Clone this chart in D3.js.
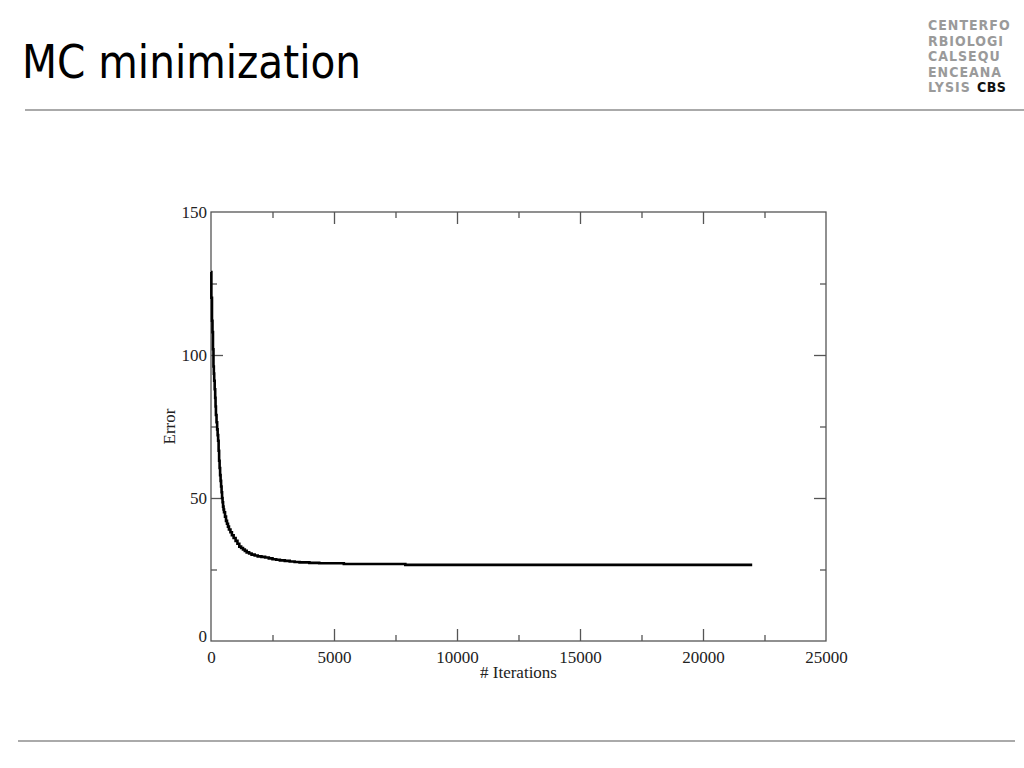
<!DOCTYPE html>
<html><head><meta charset="utf-8">
<script src="https://cdn.jsdelivr.net/npm/d3@7"></script>
<style>body{margin:0;background:#fff;}svg{display:block;}</style>
</head><body>
<svg id="c" width="1024" height="768"></svg>
<script>
const title = "MC minimization";
const logoLines = ["CENTERFO","RBIOLOGI","CALSEQU","ENCEANA","LYSIS"];
const xLabel = "# Iterations";
const yLabel = "Error";
const xTicks = [0,5000,10000,15000,20000,25000];
const yTicks = [0,50,100,150];
const iterations = [0,15,40,60,80,100,115,130,150,170,185,200,225,250,270,290,310,330,350,370,390,410,430,450,470,490,510,530,570,610,650,690,730,790,850,920,1000,1075,1150,1225,1300,1375,1450,1550,1650,1775,1900,2050,2200,2350,2500,2650,2800,3000,3200,3400,3600,4000,4400,5400,7900,22000];
const errors =     [129,120,112,108,102,96,93.5,91,88,85,82,79,76.5,74,72,70,66.5,63,60.5,58,56,54,52,50,48.5,47,46,45,43.5,42,41,40,39,38,37,36,35,34,33,32.5,32,31.5,31,30.6,30.2,29.9,29.6,29.4,29.2,28.9,28.6,28.4,28.2,28,27.8,27.6,27.5,27.3,27.2,26.9,26.6,26.6];

const svg = d3.select("#c");
// title
svg.append("text").attr("x",22).attr("y",78).attr("font-family","'Comic Sans MS','DejaVu Sans',sans-serif")
  .attr("font-size",46).attr("fill","#000").attr("textLength",339).attr("lengthAdjust","spacingAndGlyphs").text(title);
svg.append("line").attr("x1",25).attr("x2",1024).attr("y1",110).attr("y2",110).attr("stroke","#aaa").attr("stroke-width",2);
svg.append("line").attr("x1",18).attr("x2",1015).attr("y1",741).attr("y2",741).attr("stroke","#aaa").attr("stroke-width",2);
// logo
const lg = svg.append("g").attr("font-family","'DejaVu Sans Condensed','DejaVu Sans',sans-serif").attr("font-weight","bold").attr("font-size",14);
logoLines.forEach((t,i)=>{
  lg.append("text").attr("x",928).attr("y",30+i*15.5).attr("fill","#9a9a9a").attr("letter-spacing",1).text(t);
});
lg.append("text").attr("x",977).attr("y",30+4*15.5).attr("fill","#111").attr("letter-spacing",0.5).text("CBS");

// plot
const L=211,R=826,T=212,B=641;
const x = d3.scaleLinear().domain([0,25000]).range([L,R]);
const y = d3.scaleLinear().domain([0,150]).range([B,T]);
const frame = "#555";
svg.append("rect").attr("x",L).attr("y",T).attr("width",R-L).attr("height",B-T).attr("fill","none").attr("stroke",frame).attr("stroke-width",1.3);
const fontS = "'Liberation Serif','Times New Roman',serif";
const xMinor = d3.range(2500,25000,5000);
const yMinor = d3.range(25,150,50);
function ticksG(axis, tr, size){
  const g = svg.append("g").attr("transform",tr).call(axis.tickSize(size).tickSizeOuter(0));
  g.select(".domain").remove();
  g.selectAll("line").attr("stroke",frame).attr("stroke-width",1.3);
  g.selectAll("text").attr("font-family",fontS).attr("font-size",17).attr("fill","#222");
  return g;
}
// bottom
ticksG(d3.axisBottom(x).tickValues(xTicks.slice(1,-1)).tickFormat(""),`translate(0,${B})`,-12);
ticksG(d3.axisBottom(x).tickValues(xMinor).tickFormat(""),`translate(0,${B})`,-6);
const xl = ticksG(d3.axisBottom(x).tickValues(xTicks).tickFormat(d3.format("d")).tickSize(0),`translate(0,${B})`,0);
xl.selectAll("text").attr("dy","0.71em").attr("y",10);
// top
ticksG(d3.axisTop(x).tickValues(xTicks.slice(1,-1)).tickFormat(""),`translate(0,${T})`,-12);
ticksG(d3.axisTop(x).tickValues(xMinor).tickFormat(""),`translate(0,${T})`,-6);
// left
ticksG(d3.axisLeft(y).tickValues(yTicks.slice(1,-1)).tickFormat(""),`translate(${L},0)`,-12);
ticksG(d3.axisLeft(y).tickValues(yMinor).tickFormat(""),`translate(${L},0)`,-6);
const yl = ticksG(d3.axisLeft(y).tickValues(yTicks).tickFormat(d3.format("d")),`translate(${L},0)`,0);
yl.selectAll("text").attr("x",-4).attr("dy","0.32em");
yl.selectAll("text").filter(d=>d===0).attr("dy","0.05em");
// right
ticksG(d3.axisRight(y).tickValues(yTicks.slice(1,-1)).tickFormat(""),`translate(${R},0)`,-12);
ticksG(d3.axisRight(y).tickValues(yMinor).tickFormat(""),`translate(${R},0)`,-6);

// labels
svg.append("text").attr("x",(L+R)/2).attr("y",678).attr("text-anchor","middle").attr("font-family",fontS).attr("font-size",17).attr("fill","#222").text(xLabel);
svg.append("text").attr("transform",`translate(175,${(T+B)/2}) rotate(-90)`).attr("text-anchor","middle").attr("font-family",fontS).attr("font-size",17).attr("fill","#222").text(yLabel);

// line
const data = iterations.map((d,i)=>[d,errors[i]]);
const line = d3.line().x(d=>x(d[0])).y(d=>y(d[1])).curve(d3.curveStepAfter);
svg.append("path").datum(data).attr("d",line).attr("fill","none").attr("stroke","#000").attr("stroke-width",2.6);
</script>
</body></html>
